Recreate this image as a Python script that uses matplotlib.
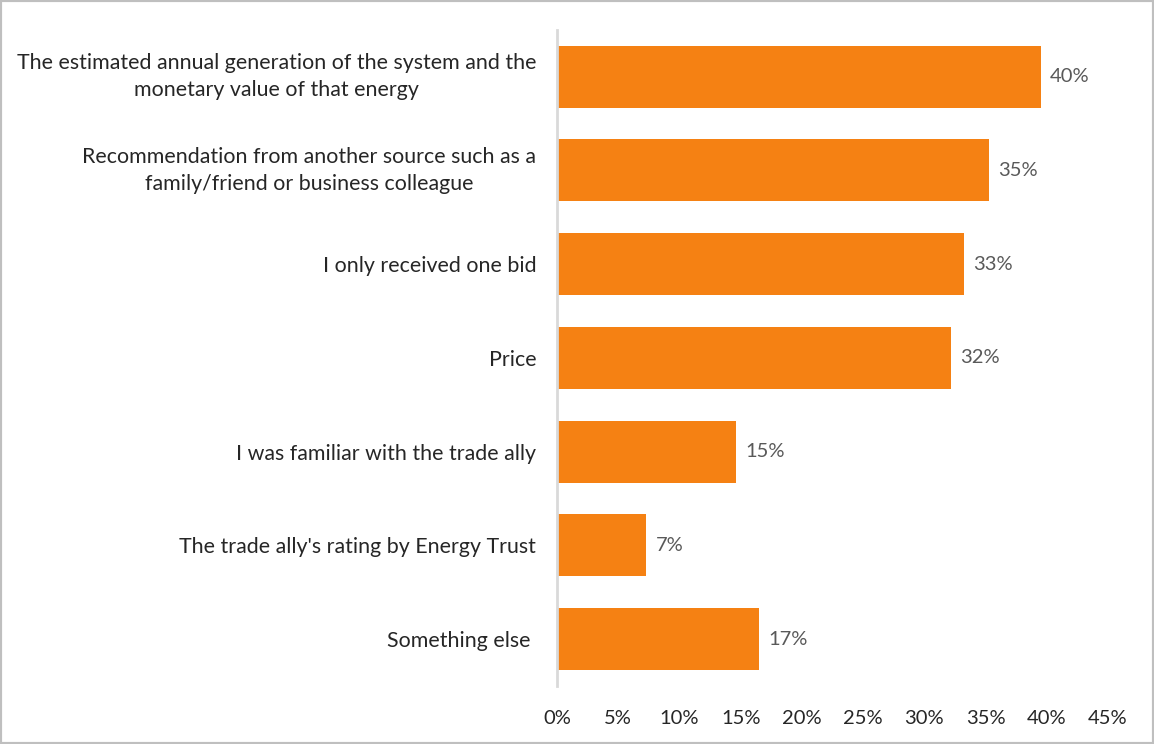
import matplotlib
matplotlib.use("Agg")
import matplotlib.pyplot as plt
from matplotlib.patches import Rectangle

categories = [
    "The estimated annual generation of the system and the\nmonetary value of that energy",
    "Recommendation from another source such as a\nfamily/friend or business colleague",
    "I only received one bid",
    "Price",
    "I was familiar with the trade ally",
    "The trade ally's rating by Energy Trust",
    "Something else ",
]
values = [39.5, 35.3, 33.2, 32.2, 14.6, 7.3, 16.5]
value_labels = ["40%", "35%", "33%", "32%", "15%", "7%", "17%"]
xticks = [0, 5, 10, 15, 20, 25, 30, 35, 40, 45]
xtick_labels = ["0%", "5%", "10%", "15%", "20%", "25%", "30%", "35%", "40%", "45%"]

plt.rcParams['font.family'] = ['Lato', 'DejaVu Sans']

fig = plt.figure(figsize=(11.54, 7.44), dpi=100)
ax = fig.add_axes([0.4827, 0.078, 0.4775, 0.882])

n = len(categories)
ypos = list(range(n))
ax.barh(ypos, values, height=0.66, color="#F58113")
ax.set_ylim(n - 0.5, -0.5)
ax.set_xlim(0, 45)

ax.set_yticks(ypos)
ax.set_yticklabels(categories, fontsize=15.4, color="#262626",
                   multialignment="center", linespacing=1.45)
for lbl in ax.get_yticklabels():
    if "\n" in lbl.get_text():
        lbl.set_va("center")
ax.set_xticks(xticks)
ax.set_xticklabels(xtick_labels, fontsize=14.5, color="#262626")
ax.tick_params(axis="both", length=0)
ax.tick_params(axis="y", pad=15)
ax.tick_params(axis="x", pad=17)

for s in ["top", "right", "bottom"]:
    ax.spines[s].set_visible(False)
ax.spines["left"].set_color("#D9D9D9")
ax.spines["left"].set_linewidth(2)

for y, v, lab in zip(ypos, values, value_labels):
    ax.text(v + 0.75, y, lab, va="center", ha="left", fontsize=14.5, color="#595959")

fig.add_artist(Rectangle((0, 0), 1, 1, transform=fig.transFigure, fill=False,
                         edgecolor="#BFBFBF", linewidth=3))

fig.savefig("out.png", dpi=100)
